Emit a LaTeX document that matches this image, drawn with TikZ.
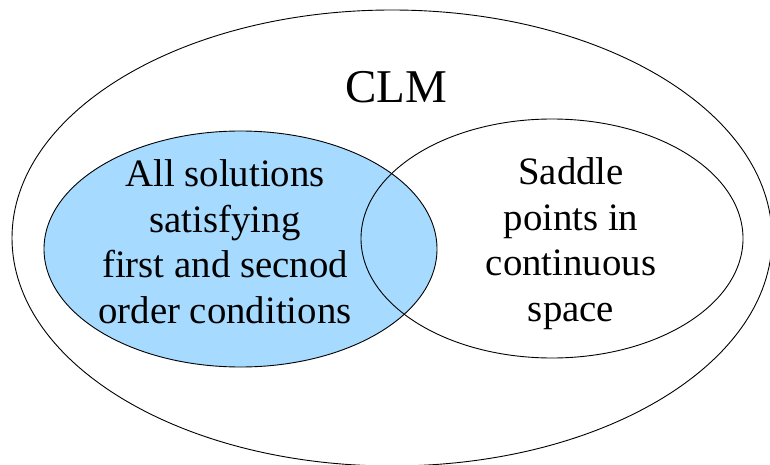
\documentclass[tikz,border=0pt]{standalone}
\usepackage{fontspec}
\setmainfont{Liberation Serif}
\usepackage{tikz}
\usetikzlibrary{positioning, shapes, calc}

\definecolor{setblue}{RGB}{166,218,255}

\begin{document}
\begin{tikzpicture}[x=1pt, y=-1pt,
	setline/.style={draw=black, line width=0.9pt},
	settext/.style={align=center, font=\fontsize{38.8}{45.5}\selectfont, inner sep=0pt}]
			
			\def\clmx{392}
			\def\clmy{238}
			
			\useasboundingbox (0,0) rectangle (770,465);
			
			% outer set
			\draw[setline] (\clmx,\clmy) ellipse (380 and 228);
			
			% the two inner sets
			\draw[setline, fill=setblue] (240.5,249) ellipse (196.5 and 118);
			\draw[setline] (552,238.5) ellipse (191 and 119.5);
			
			\node[font=\fontsize{47}{50}\selectfont, inner sep=0pt, anchor=base] (clm) at (396,103) {CLM};
			\node[settext, anchor=base] (sol) at (225,323) {All solutions\\ satisfying\\ first and secnod\\ order conditions};
			\node[settext, anchor=base] (saddle) at (571,321) {Saddle\\ points in\\ continuous\\ space};
			\end{tikzpicture}
\end{document}
